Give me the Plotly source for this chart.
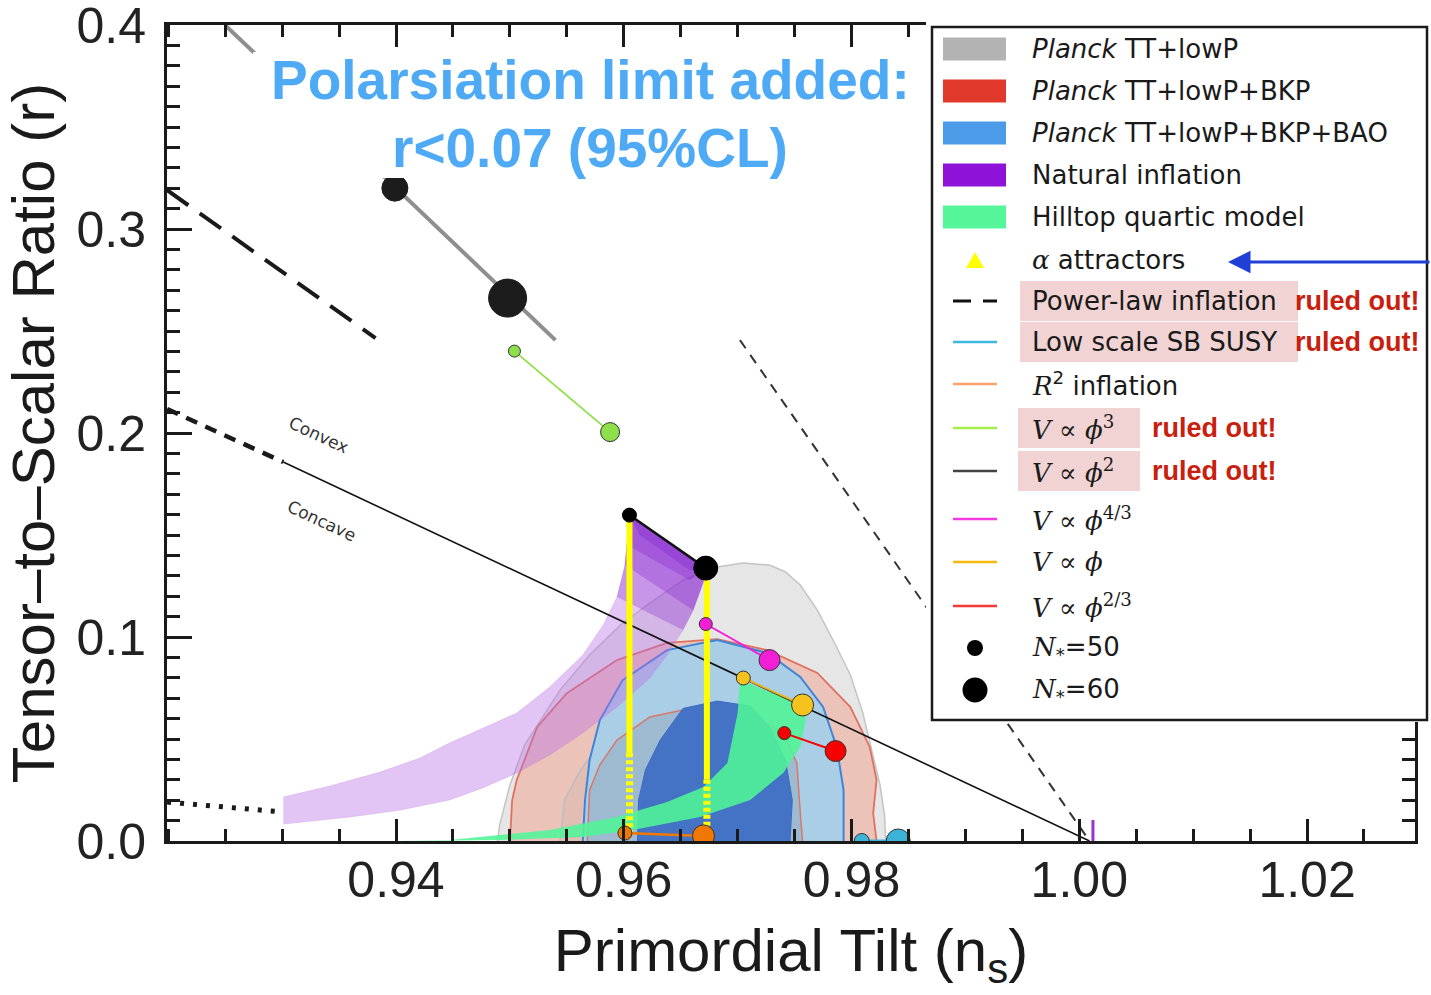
import plotly.graph_objects as go

# ---------------- data (n_s, r) ----------------
gray95_ns = [0.9489, 0.9491, 0.9500, 0.9513, 0.9527, 0.9544, 0.9570, 0.9597, 0.9623, 0.9652, 0.9682, 0.9705,
             0.9728, 0.9742, 0.9755, 0.9770, 0.9786, 0.9799, 0.9810, 0.9818, 0.9825, 0.9829, 0.9830]
gray95_r = [0, 0.0078, 0.0275, 0.0471, 0.0593, 0.0740, 0.0912, 0.1059, 0.1167, 0.1279, 0.1343, 0.1363,
            0.1353, 0.1319, 0.1255, 0.1132, 0.0961, 0.0814, 0.0627, 0.0446, 0.0275, 0.0127, 0]
gray68_ns = [0.9544, 0.9548, 0.9562, 0.9579, 0.9612, 0.9652, 0.9682, 0.9726, 0.9755, 0.9764, 0.9766]
gray68_r = [0, 0.0201, 0.0348, 0.0471, 0.0583, 0.0652, 0.0672, 0.0647, 0.0544, 0.0299, 0]
red95_ns = [0.9500, 0.9502, 0.9506, 0.9524, 0.9550, 0.9594, 0.9638, 0.9682, 0.9726, 0.9770, 0.9799, 0.9816,
            0.9822, 0.9819, 0.9822]
red95_r = [0, 0.0201, 0.0299, 0.0559, 0.0725, 0.0887, 0.0971, 0.0990, 0.0936, 0.0824, 0.0657, 0.0461,
           0.0299, 0.0137, 0]
red68_ns = [0.9568, 0.9570, 0.9579, 0.9594, 0.9623, 0.9652, 0.9682, 0.9711, 0.9740, 0.9752, 0.9755, 0.9757]
red68_r = [0, 0.0250, 0.0373, 0.0495, 0.0608, 0.0642, 0.0642, 0.0627, 0.0529, 0.0382, 0.0137, 0]
blue95_ns = [0.9564, 0.9566, 0.9570, 0.9579, 0.9599, 0.9638, 0.9682, 0.9726, 0.9755, 0.9775, 0.9787, 0.9793, 0.9793]
blue95_r = [0, 0.0201, 0.0397, 0.0593, 0.0789, 0.0936, 0.0985, 0.0922, 0.0804, 0.0657, 0.0461, 0.0250, 0]
blue68_ns = [0.9612, 0.9613, 0.9619, 0.9632, 0.9652, 0.9682, 0.9711, 0.9728, 0.9742, 0.9748, 0.9746]
blue68_r = [0, 0.0201, 0.0348, 0.0495, 0.0650, 0.0686, 0.0662, 0.0560, 0.0397, 0.0201, 0]

natural_upper_ns = [0.9301, 0.9342, 0.9386, 0.9421, 0.9447, 0.9476, 0.9506, 0.9535, 0.9564, 0.9582, 0.9594, 0.9601, 0.9605]
natural_upper_r = [0.0216, 0.0270, 0.0338, 0.0407, 0.0480, 0.0554, 0.0627, 0.0755, 0.0912, 0.1059, 0.1196, 0.1353, 0.1598]
natural_lower_ns = [0.9672, 0.9670, 0.9661, 0.9652, 0.9638, 0.9623, 0.9594, 0.9564, 0.9535, 0.9506, 0.9476,
                    0.9447, 0.9404, 0.9360, 0.9301]
natural_lower_r = [0.1338, 0.1270, 0.1132, 0.1034, 0.0912, 0.0799, 0.0657, 0.0529, 0.0422, 0.0333, 0.0260,
                   0.0201, 0.0152, 0.0118, 0.0083]
nat_shade1_ns = [0.9594, 0.9601, 0.9605, 0.9672, 0.9670, 0.9661, 0.9652]
nat_shade1_r = [0.1196, 0.1353, 0.1598, 0.1338, 0.1270, 0.1132, 0.1034]
nat_shade2_ns = [0.9601, 0.9605, 0.9672, 0.9670, 0.9661]
nat_shade2_r = [0.1353, 0.1598, 0.1338, 0.1270, 0.1132]
nat_shade3_ns = [0.9603, 0.9605, 0.9672, 0.9658]
nat_shade3_r = [0.1451, 0.1598, 0.1338, 0.1279]
nat_shade4_ns = [0.9605, 0.9672, 0.9658, 0.9614]
nat_shade4_r = [0.1598, 0.1338, 0.1328, 0.1500]

hilltop_ns = [0.9404, 0.9447, 0.9535, 0.9594, 0.9638, 0.9670, 0.9691, 0.9700, 0.9702, 0.9761, 0.9759, 0.9755,
              0.9740, 0.9711, 0.9667, 0.9608, 0.9564, 0.9491, 0.9404]
hilltop_r = [0, 0.0005, 0.0054, 0.0118, 0.0191, 0.0265, 0.0382, 0.0627, 0.0789, 0.0657, 0.0569, 0.0461,
             0.0333, 0.0201, 0.0118, 0.0054, 0.0020, 0.0005, 0]

phi2_line_ns = [0.9250, 0.9540]
phi2_line_r = [0.400, 0.2456]
phi2_dots_ns = [0.9399, 0.9498]
phi2_dots_r = [0.3201, 0.2662]
phi3_ns = [0.9504, 0.9588]
phi3_r = [0.2402, 0.2005]
natural_end_ns = [0.9605, 0.9672]
natural_end_r = [0.1598, 0.1338]
alpha_ns = [0.9605, 0.9673]
alpha_top_r = [0.1598, 0.1338]
alpha_mid_r = [0.043, 0.030]
alpha_bot_r = [0.004, 0.003]
r2_ns = [0.9601, 0.9670]
r2_r = [0.0039, 0.0025]
phi43_ns = [0.9672, 0.9728]
phi43_r = [0.1064, 0.0887]
phi1_ns = [0.9705, 0.9757]
phi1_r = [0.0799, 0.0667]
phi23_ns = [0.9741, 0.9786]
phi23_r = [0.0529, 0.0441]
susy_ns = [0.9809, 0.9841]
susy_r = [0.0, 0.0]

powerlaw_ns = [0.9199, 0.9382]
powerlaw_r = [0.3191, 0.2466]
steep_dash_ns = [0.9702, 1.0009]
steep_dash_r = [0.2456, 0.0]
convex_dash_ns = [0.9199, 0.9301]
convex_dash_r = [0.2118, 0.1858]
concave_ns = [0.9301, 1.0009]
concave_r = [0.1858, 0.0]
dotted_ns = [0.9199, 0.9301]
dotted_r = [0.0191, 0.0142]
purple_tick_ns = [1.0012, 1.0012]
purple_tick_r = [0.0, 0.0103]

x_ticks = [0.94, 0.96, 0.98, 1.00, 1.02]
y_ticks = [0.0, 0.1, 0.2, 0.3, 0.4]

legend_labels = [
    "<i>Planck</i> TT+lowP",
    "<i>Planck</i> TT+lowP+BKP",
    "<i>Planck</i> TT+lowP+BKP+BAO",
    "Natural inflation",
    "Hilltop quartic model",
    "<span style='font-family:DejaVu Serif'><i>α</i></span> attractors",
    "Power-law inflation",
    "Low scale SB SUSY",
    "<span style='font-family:DejaVu Serif'><i>R</i></span><sup>2</sup> inflation",
    "<span style='font-family:DejaVu Serif'><i>V</i> ∝ <i>ϕ</i><sup>3</sup></span>",
    "<span style='font-family:DejaVu Serif'><i>V</i> ∝ <i>ϕ</i><sup>2</sup></span>",
    "<span style='font-family:DejaVu Serif'><i>V</i> ∝ <i>ϕ</i><sup>4/3</sup></span>",
    "<span style='font-family:DejaVu Serif'><i>V</i> ∝ <i>ϕ</i></span>",
    "<span style='font-family:DejaVu Serif'><i>V</i> ∝ <i>ϕ</i><sup>2/3</sup></span>",
    "<span style='font-family:DejaVu Serif'><i>N</i></span><sub>*</sub>=50",
    "<span style='font-family:DejaVu Serif'><i>N</i></span><sub>*</sub>=60",
]
legend_symbols = ["rect", "rect", "rect", "rect", "rect", "tri", "dash", "line", "line", "line", "line",
                  "line", "line", "line", "dot", "bigdot"]
legend_colors = ["#b3b3b3", "#e0382a", "#4b9be9", "#8f12d8", "#55f59a", "#ffff00", "#111111", "#3db8e0",
                 "#f7a26a", "#a6ee4a", "#444444", "#f23be3", "#f8b90c", "#f23a3a", "#000000", "#000000"]
ruled_out_index = [6, 7, 9, 10]

# ---------------- layout geometry (pixels) ----------------
W, H = 1431, 995
ML, MR, MT, MB = 167, 16, 25, 154
PW, PH = W - ML - MR, H - MT - MB
legend_row_px = [49, 91, 133, 175, 217, 260, 301, 342, 384, 428, 471, 519, 562, 606, 648, 690]


def px_x(p):
    return (p - ML) / PW


def px_y(p):
    return (H - MB - p) / PH


fig = go.Figure()


def poly(xs, ys, fill, lc, lw):
    fig.add_trace(go.Scatter(x=xs, y=ys, mode="lines", fill="toself", fillcolor=fill,
                             line=dict(color=lc, width=lw), hoverinfo="skip", showlegend=False))


def line(xs, ys, color, width, dash="solid"):
    fig.add_trace(go.Scatter(x=xs, y=ys, mode="lines", line=dict(color=color, width=width, dash=dash),
                             hoverinfo="skip", showlegend=False))


def pts(xs, ys, color, sizes, lc="#333333"):
    fig.add_trace(go.Scatter(x=xs, y=ys, mode="markers",
                             marker=dict(color=color, size=sizes, opacity=1, line=dict(color=lc, width=1)),
                             hoverinfo="skip", showlegend=False))


# Planck contours
poly(gray95_ns, gray95_r, "#e6e6e6", "#c4c4c4", 1.5)
poly(red95_ns, red95_r, "rgba(240,172,155,0.60)", "#e0705f", 1.8)
poly(gray68_ns, gray68_r, "rgba(150,150,150,0.12)", "#bdbdbd", 1.5)
poly(blue95_ns, blue95_r, "rgba(165,207,232,0.93)", "#3d85d8", 2)
poly(red68_ns, red68_r, "rgba(120,120,140,0.22)", "#d9786a", 1.5)
poly(blue68_ns, blue68_r, "#4473c6", "#3a6cc4", 1)

# natural inflation band with darker top
poly(natural_upper_ns + natural_lower_ns, natural_upper_r + natural_lower_r,
     "rgba(185,110,230,0.40)", "rgba(185,110,230,0.45)", 0.5)
for sx, sy in [(nat_shade1_ns, nat_shade1_r), (nat_shade2_ns, nat_shade2_r),
               (nat_shade3_ns, nat_shade3_r), (nat_shade4_ns, nat_shade4_r)]:
    poly(sx, sy, "rgba(120,15,200,0.26)", "rgba(0,0,0,0)", 0)

# hilltop quartic band
poly(hilltop_ns, hilltop_r, "rgba(80,245,150,0.88)", "rgba(0,0,0,0)", 0)

# reference lines
line(powerlaw_ns, powerlaw_r, "#1a1a1a", 4, "26px,14px")
line(steep_dash_ns, steep_dash_r, "#333333", 2, "10px,8px")
line(convex_dash_ns, convex_dash_r, "#1a1a1a", 4.5, "12px,9px")
line(concave_ns, concave_r, "#111111", 1.6)
line(dotted_ns, dotted_r, "#1a1a1a", 5, "4px,9px")
line(purple_tick_ns, purple_tick_r, "#9933cc", 3)

# phi^2 (top) track
line(phi2_line_ns, phi2_line_r, "#8f8f8f", 4)
pts(phi2_dots_ns, phi2_dots_r, "#1c1c1c", [26, 38], "#1c1c1c")

# phi^3
line(phi3_ns, phi3_r, "#8ee04a", 1.8)
pts(phi3_ns, phi3_r, "#8ee04a", [12, 19])

# alpha attractors
for i in range(2):
    line([alpha_ns[i], alpha_ns[i]], [alpha_top_r[i], alpha_mid_r[i]], "#ffff00", 6)
    line([alpha_ns[i], alpha_ns[i]], [alpha_mid_r[i], alpha_bot_r[i]], "#ffff00", 7, "4px,3px")

# natural inflation end points
line(natural_end_ns, natural_end_r, "#111111", 2.5)
pts(natural_end_ns, natural_end_r, "#000000", [14, 24], "#000000")

# R^2
line(r2_ns, r2_r, "#f07800", 2.5)
pts(r2_ns, r2_r, "#f07800", [14, 22])

# monomials
line(phi43_ns, phi43_r, "#f21fd6", 2)
pts(phi43_ns, phi43_r, "#f21fd6", [13, 21])
line(phi1_ns, phi1_r, "#e8b41a", 2)
pts(phi1_ns, phi1_r, "#f6c21e", [14, 22])
line(phi23_ns, phi23_r, "#f80000", 2)
pts(phi23_ns, phi23_r, "#f80000", [13, 21])

# low scale SB SUSY
line(susy_ns, susy_r, "#3cb4d8", 3)
pts(susy_ns, susy_r, "#3cb4d8", [15, 24])

# ---------------- shapes: title mask + legend ----------------
shapes = []
shapes.append(dict(type="rect", xref="paper", yref="paper", layer="above",
                   x0=px_x(253), x1=px_x(926), y0=px_y(178), y1=px_y(52),
                   fillcolor="white", line=dict(width=0)))
shapes.append(dict(type="rect", xref="paper", yref="paper", layer="above",
                   x0=px_x(926), x1=px_x(1431), y0=px_y(722), y1=px_y(16),
                   fillcolor="white", line=dict(width=0)))
shapes.append(dict(type="rect", xref="paper", yref="paper", layer="above",
                   x0=px_x(932), x1=px_x(1427), y0=px_y(720), y1=px_y(27),
                   fillcolor="rgba(0,0,0,0)", line=dict(color="#1a1a1a", width=2.5)))

for k in ruled_out_index:
    yc = legend_row_px[k]
    right = 1298 if k in (6, 7) else 1140
    left = 1020 if k in (6, 7) else 1018
    shapes.append(dict(type="rect", xref="paper", yref="paper", layer="above",
                       x0=px_x(left), x1=px_x(right), y0=px_y(yc + 20), y1=px_y(yc - 20),
                       fillcolor="#f1d3d3", line=dict(width=0)))

for k, (sym, col) in enumerate(zip(legend_symbols, legend_colors)):
    yc = legend_row_px[k]
    if sym == "rect":
        shapes.append(dict(type="rect", xref="paper", yref="paper", layer="above",
                           x0=px_x(943), x1=px_x(1006), y0=px_y(yc + 11.5), y1=px_y(yc - 11.5),
                           fillcolor=col, line=dict(width=0)))
    elif sym == "line":
        shapes.append(dict(type="line", xref="paper", yref="paper", layer="above",
                           x0=px_x(953), x1=px_x(997), y0=px_y(yc), y1=px_y(yc),
                           line=dict(color=col, width=2.5)))
    elif sym == "dash":
        shapes.append(dict(type="line", xref="paper", yref="paper", layer="above",
                           x0=px_x(953), x1=px_x(997), y0=px_y(yc), y1=px_y(yc),
                           line=dict(color=col, width=3, dash="18px,12px")))
    elif sym == "tri":
        path = "M {a},{b} L {c},{d} L {e},{f} Z".format(
            a=px_x(966), b=px_y(yc + 8), c=px_x(984), d=px_y(yc + 8), e=px_x(975), f=px_y(yc - 8))
        shapes.append(dict(type="path", xref="paper", yref="paper", layer="above", path=path,
                           fillcolor=col, line=dict(width=0)))
    else:
        rad = 8 if sym == "dot" else 12.5
        shapes.append(dict(type="circle", xref="paper", yref="paper", layer="above",
                           x0=px_x(975 - rad), x1=px_x(975 + rad), y0=px_y(yc + rad), y1=px_y(yc - rad),
                           fillcolor=col, line=dict(width=0)))

# ---------------- annotations ----------------
ann = []
for k, lab in enumerate(legend_labels):
    ann.append(dict(xref="paper", yref="paper", x=px_x(1030), y=px_y(legend_row_px[k]), text=lab,
                    showarrow=False, xanchor="left", yanchor="middle",
                    font=dict(family="DejaVu Sans", size=26, color="#1a1a1a")))
for k in ruled_out_index:
    xl = 1293 if k in (6, 7) else 1150
    ann.append(dict(xref="paper", yref="paper", x=px_x(xl), y=px_y(legend_row_px[k]), text="<b>ruled out!</b>",
                    showarrow=False, xanchor="left", yanchor="middle",
                    font=dict(family="Liberation Sans", size=27, color="#c9200e")))

ann.append(dict(xref="paper", yref="paper", x=px_x(590), y=px_y(80), text="<b>Polarsiation limit added:</b>",
                showarrow=False, xanchor="center", yanchor="middle",
                font=dict(family="Liberation Sans", size=55, color="#4faaf6")))
ann.append(dict(xref="paper", yref="paper", x=px_x(590), y=px_y(148), text="<b>r&lt;0.07 (95%CL)</b>",
                showarrow=False, xanchor="center", yanchor="middle",
                font=dict(family="Liberation Sans", size=55, color="#4faaf6")))

ann.append(dict(x=0.9332, y=0.1990, xref="x", yref="y", text="Convex", showarrow=False, textangle=25,
                font=dict(family="DejaVu Sans", size=17, color="#333333")))
ann.append(dict(x=0.9335, y=0.1569, xref="x", yref="y", text="Concave", showarrow=False, textangle=25,
                font=dict(family="DejaVu Sans", size=17, color="#333333")))

ann.append(dict(xref="paper", yref="paper", x=px_x(1228), y=px_y(262), text="", showarrow=True,
                ax=205, ay=0, arrowcolor="#1f3fd6", arrowwidth=3, arrowhead=2, arrowsize=1.5, standoff=0))

axis_common = dict(showgrid=False, zeroline=False, showline=True, linecolor="#1a1a1a", linewidth=3,
                   mirror="ticks", ticks="inside", tickcolor="#1a1a1a", tickwidth=3,
                   ticklabeloverflow="allow", automargin=False,
                   tickfont=dict(family="Liberation Sans", size=50, color="#222222"))

fig.update_layout(
    width=W, height=H,
    margin=dict(l=ML, r=MR, t=MT, b=MB, autoexpand=False),
    paper_bgcolor="white", plot_bgcolor="white",
    showlegend=False,
    shapes=shapes, annotations=ann,
    xaxis=dict(range=[0.91989, 1.02948], tickvals=x_ticks, ticktext=["%.2f" % v for v in x_ticks],
               ticklen=22, ticklabelstandoff=-7,
               minor=dict(dtick=0.005, tick0=0.94, ticklen=12, tickwidth=2.5, ticks="inside", tickcolor="#1a1a1a"),
               title=dict(text="Primordial Tilt (n<sub>s</sub>)", standoff=22,
                          font=dict(family="Liberation Sans", size=60, color="#1a1a1a")),
               **axis_common),
    yaxis=dict(range=[0, 0.4001], tickvals=y_ticks, ticktext=["%.1f" % v for v in y_ticks],
               ticklen=25, ticklabelstandoff=8,
               minor=dict(dtick=0.01, tick0=0, ticklen=13, tickwidth=2.5, ticks="inside", tickcolor="#1a1a1a"),
               title=dict(text="Tensor–to–Scalar Ratio (r)", standoff=13,
                          font=dict(family="Liberation Sans", size=60, color="#1a1a1a")),
               **axis_common),
)

fig.write_html("out.html", config={"displayModeBar": False},
               post_script="document.body.style.margin='0px';document.body.style.overflow='hidden';")
